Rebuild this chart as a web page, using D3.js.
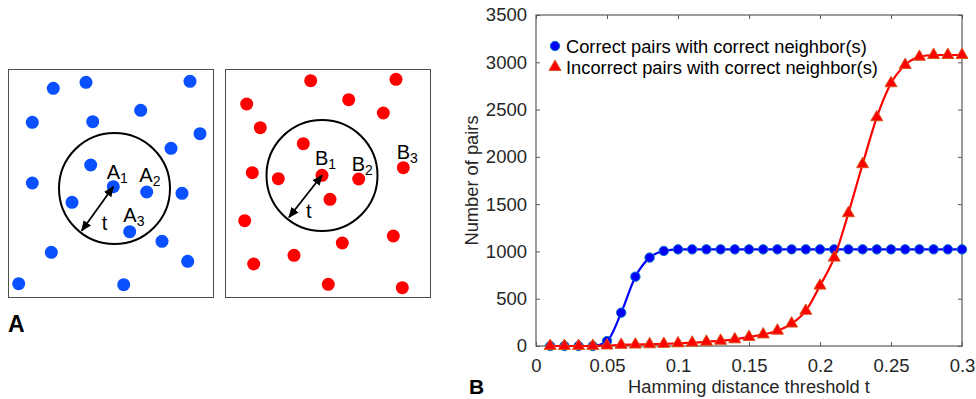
<!DOCTYPE html>
<html><head><meta charset="utf-8">
<script src="https://cdn.jsdelivr.net/npm/d3@7"></script>
<style>body{margin:0;background:#fff}svg{display:block;font-family:"Liberation Sans",Arial,sans-serif}</style>
</head><body><svg id="c" width="976" height="399"></svg>
<script>
// ---- Panel B data ----
const thresholds = [0.01,0.02,0.03,0.04,0.05,0.06,0.07,0.08,0.09,0.10,0.11,0.12,0.13,0.14,0.15,0.16,0.17,0.18,0.19,0.20,0.21,0.22,0.23,0.24,0.25,0.26,0.27,0.28,0.29,0.30];
const correctPairs = [0,0,0,0,52,352,733,935,1005,1022,1022,1022,1022,1022,1022,1022,1022,1022,1022,1022,1022,1022,1022,1022,1022,1022,1022,1022,1022,1022];
const incorrectPairs = [0,0,0,0,5,12,15,18,22,28,35,45,55,70,95,122,162,237,372,638,934,1404,1922,2418,2778,2971,3058,3077,3077,3077];
const seriesNames = ["Correct pairs with correct neighbor(s)","Incorrect pairs with correct neighbor(s)"];
const xTicks = [0,0.05,0.1,0.15,0.2,0.25,0.3];
const xTickLabels = ["0","0.05","0.1","0.15","0.2","0.25","0.3"];
const yTicks = [0,500,1000,1500,2000,2500,3000,3500];
const yTickLabels = ["0","500","1000","1500","2000","2500","3000","3500"];
const xTitle = "Hamming distance threshold t";
const yTitle = "Number of pairs";

// ---- Panel A schematic data (positions within each box, box units) ----
const dotsA = [[45.3,19.3],[78,13.3],[182,12.3],[24.3,53.3],[84.7,52.7],[132.7,41.3],[192,64.7],[163,79.3],[82.7,96],[24.3,114],[105.3,117.7],[138.7,123],[174,124.3],[64,133.3],[121.7,162.7],[154,172.3],[43.3,183.3],[179.7,192.3],[10.7,214.7],[115.7,215.7]];
const dotsB = [[85.7,11.7],[171,10.3],[21.7,35],[123.7,30.7],[158.3,44],[35.3,58.7],[78.3,74.7],[27.3,103.7],[53.3,109.7],[97,106.3],[133.7,110],[178.3,98.7],[105,130.3],[19.7,151.7],[168.3,167],[117.3,174],[69,186.3],[28.7,195],[103.3,215.3],[177.3,218.7]];
const labelsA = [["A","1",98.7,110],["A","2",131.3,112.5],["A","3",115.3,153.3]];
const labelsB = [["B","1",90,96.3],["B","2",126.7,101.7],["B","3",171.7,90.3]];
const circleA = {cx:106.5, cy:119.5, r:55.5, ax:105.3, ay:117.7, ex:73.7, ey:161.7, tx:93.7, ty:161};
const circleB = {cx:97, cy:106.5, r:55.5, ax:97, ay:106.3, ex:64, ey:148.3, tx:81, ty:149.3};

const svg = d3.select("#c");
const defs = svg.append("defs");
["s","e"].forEach(id=>{
  defs.append("marker").attr("id","ah"+id).attr("viewBox","0 0 10 10")
    .attr("refX",9).attr("refY",5).attr("markerWidth",6).attr("markerHeight",6)
    .attr("orient", id==="s" ? "auto-start-reverse" : "auto").attr("markerUnits","strokeWidth")
    .append("path").attr("d","M0,0.8 L10,5 L0,9.2 Z").attr("fill","#000");
});

function panel(x0, dots, labels, circ, color){
  const sx = d3.scaleLinear().domain([0,205]).range([x0, x0+205]);
  const sy = d3.scaleLinear().domain([0,228]).range([69, 297]);
  const g = svg.append("g");
  g.append("rect").attr("x",sx(0)+0.5).attr("y",sy(0)+0.5).attr("width",205).attr("height",228)
    .attr("fill","none").attr("stroke","#4d4d4d").attr("stroke-width",1);
  g.selectAll("circle.d").data(dots).join("circle").attr("class","d")
    .attr("cx",d=>sx(d[0])).attr("cy",d=>sy(d[1])).attr("r",6.5).attr("fill",color);
  g.append("circle").attr("cx",sx(circ.cx)).attr("cy",sy(circ.cy)).attr("r",circ.r)
    .attr("fill","none").attr("stroke","#000").attr("stroke-width",2);
  g.append("line").attr("x1",sx(circ.ex)).attr("y1",sy(circ.ey)).attr("x2",sx(circ.ax)).attr("y2",sy(circ.ay))
    .attr("stroke","#000").attr("stroke-width",1.8)
    .attr("marker-start","url(#ahs)").attr("marker-end","url(#ahe)");
  g.append("text").attr("x",sx(circ.tx)).attr("y",sy(circ.ty)).attr("font-size",20).attr("fill","#000").text("t");
  labels.forEach(l=>{
    const t = g.append("text").attr("x",sx(l[2])).attr("y",sy(l[3])).attr("font-size",20).attr("fill","#000");
    t.append("tspan").text(l[0]);
    t.append("tspan").attr("font-size",14).attr("dy",4).text(l[1]);
  });
}
panel(8, dotsA, labelsA, circleA, "#0a50ff");
panel(225, dotsB, labelsB, circleB, "#ff0000");

svg.append("text").attr("x",8).attr("y",332).attr("font-size",23).attr("font-weight","bold").text("A");
svg.append("text").attr("x",469).attr("y",394).attr("font-size",21).attr("font-weight","bold").text("B");

// ---- Panel B chart ----
const L=536, R=962, T=15, B=346;
const x = d3.scaleLinear().domain([0,0.3]).range([L,R]);
const y = d3.scaleLinear().domain([0,3500]).range([B,T]);
const axisCol = "#5a5a5a", txtCol = "#262626";
const gc = svg.append("g");

function styleAxis(g, showLabels){
  g.select(".domain").remove();
  g.attr("font-family",null).attr("font-size",null);
  g.selectAll(".tick line").attr("stroke",axisCol);
  g.selectAll(".tick text").attr("fill",txtCol).attr("font-size",18.5);
  if(!showLabels) g.selectAll(".tick text").remove();
}
const xAxis = d3.axisBottom(x).tickValues(xTicks).tickFormat((d,i)=>xTickLabels[i]).tickSizeInner(-4).tickSizeOuter(0).tickPadding(13);
gc.append("g").attr("transform",`translate(0,${B})`).call(xAxis).call(g=>styleAxis(g,true));
gc.append("g").attr("transform",`translate(0,${T})`).call(d3.axisTop(x).tickValues(xTicks).tickSizeInner(-4).tickSizeOuter(0)).call(g=>styleAxis(g,false));
const yAxis = d3.axisLeft(y).tickValues(yTicks).tickFormat((d,i)=>yTickLabels[i]).tickSizeInner(-4).tickSizeOuter(0).tickPadding(9);
gc.append("g").attr("transform",`translate(${L},0)`).call(yAxis).call(g=>styleAxis(g,true));
gc.append("g").attr("transform",`translate(${R},0)`).call(d3.axisRight(y).tickValues(yTicks).tickSizeInner(-4).tickSizeOuter(0)).call(g=>styleAxis(g,false));
gc.append("rect").attr("x",L).attr("y",T).attr("width",R-L).attr("height",B-T)
  .attr("fill","none").attr("stroke",axisCol).attr("stroke-width",1.2);

const lineGen = d3.line().x(d=>x(d[0])).y(d=>y(d[1])).curve(d3.curveMonotoneX);
const dataC = thresholds.map((t,i)=>[t,correctPairs[i]]);
const dataI = thresholds.map((t,i)=>[t,incorrectPairs[i]]);

gc.append("path").datum(dataC).attr("d",lineGen).attr("fill","none").attr("stroke","#0000ff").attr("stroke-width",2.2);
gc.selectAll("circle.c").data(dataC).join("circle").attr("class","c")
  .attr("cx",d=>x(d[0])).attr("cy",d=>y(d[1])).attr("r",4.7)
  .attr("fill","#0000ff").attr("stroke","#0072bd").attr("stroke-width",1);
gc.append("path").datum(dataI).attr("d",lineGen).attr("fill","none").attr("stroke","#ff0000").attr("stroke-width",2.2);
const tri = d3.symbol().type(d3.symbolTriangle).size(62);
gc.selectAll("path.t").data(dataI).join("path").attr("class","t")
  .attr("transform",d=>`translate(${x(d[0])},${y(d[1])})`).attr("d",tri)
  .attr("fill","#ff0000").attr("stroke","#d95319").attr("stroke-width",1);

// legend
const lg = gc.append("g");
lg.append("circle").attr("cx",555).attr("cy",46).attr("r",4.7).attr("fill","#0000ff").attr("stroke","#0072bd");
lg.append("path").attr("transform","translate(555,67)").attr("d",tri).attr("fill","#ff0000").attr("stroke","#d95319");
lg.append("text").attr("x",566).attr("y",52.5).attr("font-size",18.3).attr("fill","#000").text(seriesNames[0]);
lg.append("text").attr("x",566).attr("y",74).attr("font-size",18.3).attr("fill","#000").text(seriesNames[1]);

// titles
gc.append("text").attr("x",(L+R)/2).attr("y",393).attr("text-anchor","middle").attr("font-size",18.3).attr("fill",txtCol).text(xTitle);
gc.append("text").attr("transform",`translate(478,${(T+B)/2}) rotate(-90)`).attr("text-anchor","middle").attr("font-size",18.3).attr("fill",txtCol).text(yTitle);
</script></body></html>
